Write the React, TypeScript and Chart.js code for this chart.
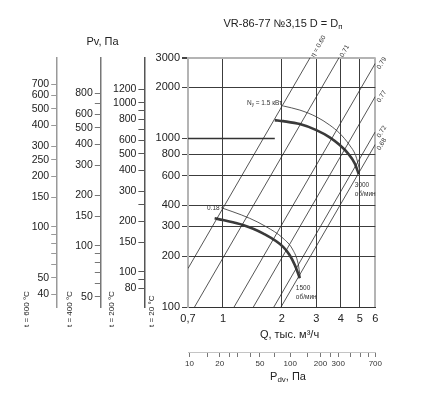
import React, { useEffect, useRef } from "react";
import { Chart, registerables } from "chart.js";

Chart.register(...registerables);

const FONT = "'Liberation Sans', Arial, Helvetica, sans-serif";

// ---- main axes (Q, thousand m3/h ; P, Pa at 20 °C) ----
const Q_MIN = 0.663;
const Q_MAX = 6;
const P_MIN = 100;
const P_MAX = 3000;
const Q_TICKS = [0.663, 1, 2, 3, 4, 5, 6];
const Q_TICK_LABELS = ["0,7", "1", "2", "3", "4", "5", "6"];
const P_TICKS = [100, 200, 300, 400, 600, 800, 1000, 2000, 3000];
const P_PARTIAL_GRID = 1000;

// ---- dynamic pressure scale ----
const PDV_MIN = 9.663;
const PDV_MAX = 700;
const PDV_TICKS = [10, 15, 20, 25, 30, 40, 50, 70, 100, 150, 200, 250, 300, 400, 500, 600, 700];
const PDV_LABELS = [10, 20, 50, 100, 200, 300, 700];

// ---- temperature pressure scales ----
const T_REF = 20;
const T200 = 200;
const T400 = 400;
const T600 = 600;
const T200_TICKS = [80, 90, 100, 150, 200, 250, 300, 400, 500, 600, 700, 800, 900, 1000, 1200];
const T200_LABELS = [80, 100, 150, 200, 300, 400, 500, 600, 800, 1000, 1200];
const T400_TICKS = [50, 60, 70, 80, 90, 100, 150, 200, 300, 400, 500, 600, 700, 800];
const T400_LABELS = [50, 100, 150, 200, 300, 400, 500, 600, 800];
const T600_TICKS = [40, 50, 60, 70, 80, 90, 100, 150, 200, 250, 300, 400, 500, 600, 700];
const T600_LABELS = [40, 50, 100, 150, 200, 250, 300, 400, 500, 600, 700];

// ---- efficiency lines ----
const ETA_LABELS = ["η = 0.60", "0.71", "0.79", "0.77", "0.72", "0.68"];
const ETA_Q_START = [0.663, 0.716, 1.14, 1.43, 1.82, 1.98];
const ETA_P_START = [169, 100, 100, 100, 100, 100];
const ETA_Q_END = [2.79, 3.92, 6, 6, 6, 6];
const ETA_P_END = [3000, 3000, 2772, 1764, 1090, 918];

// ---- fan curves ----
const Q_3000_THICK = [1.84, 2.03, 2.47, 3.0, 3.51, 3.95, 4.35, 4.71, 4.94];
const P_3000_THICK = [1278, 1260, 1210, 1115, 1010, 909, 812, 709, 612];
const Q_3000_THIN = [2.03, 2.47, 3.0, 3.51, 3.95, 4.43, 4.76, 4.99];
const P_3000_THIN = [1550, 1465, 1337, 1194, 1066, 909, 790, 650];
const Q_1500_THICK = [0.907, 1.0, 1.265, 1.6, 2.03, 2.19, 2.33, 2.47];
const P_1500_THICK = [335, 327, 306, 273, 227, 203, 177, 148];
const Q_1500_THIN = [0.98, 1.125, 1.37, 1.66, 2.03, 2.28, 2.42, 2.48];
const P_1500_THIN = [387, 366, 335, 299, 255, 217, 181, 151];

const LABEL_N_3000 = "1.5 кВт";
const LABEL_N_1500 = "0.18";
const LABEL_RPM_3000 = "3000";
const LABEL_RPM_1500 = "1500";
const LABEL_RPM_UNIT = "об/мин";

const AXIS_W = 43.6;
const CHART_TOP = 57.5;
const CHART_BOTTOM = 307;
const CHART_RIGHT = 375.3;
const X_AXIS_H = 45;
const PDV_AXIS_H = 33;

const factor = (t: number) => (273 + T_REF) / (273 + t);

type Part = { t: string; sub?: boolean };
function drawRich(ctx: CanvasRenderingContext2D, parts: Part[], x: number, y: number, size: number, align: string) {
  const widths = parts.map((p) => {
    ctx.font = `${p.sub ? size * 0.72 : size}px ${FONT}`;
    return ctx.measureText(p.t).width;
  });
  const total = widths.reduce((a, b) => a + b, 0);
  let cx = align === "center" ? x - total / 2 : align === "right" ? x - total : x;
  ctx.textAlign = "left";
  ctx.textBaseline = "middle";
  parts.forEach((p, i) => {
    ctx.font = `${p.sub ? size * 0.72 : size}px ${FONT}`;
    ctx.fillText(p.t, cx, p.sub ? y + size * 0.28 : y);
    cx += widths[i];
  });
}

const textPlugin = {
  id: "nomogramTexts",
  beforeDatasetsDraw(chart: any) {
    const { ctx } = chart;
    const xs = chart.scales.x;
    const ys = chart.scales.y;
    const y = Math.round(ys.getPixelForValue(P_PARTIAL_GRID)) + 0.5;
    ctx.save();
    ctx.strokeStyle = "#333";
    ctx.lineWidth = 1.4;
    ctx.beginPath();
    ctx.moveTo(xs.getPixelForValue(Q_MIN), y);
    ctx.lineTo(xs.getPixelForValue(Q_3000_THICK[0]), y);
    ctx.stroke();
    ctx.restore();
  },
  afterDraw(chart: any) {
    const { ctx } = chart;
    const xs = chart.scales.x;
    const ys = chart.scales.y;
    const px = (q: number, p: number) => ({ x: xs.getPixelForValue(q), y: ys.getPixelForValue(p) });
    ctx.save();
    ctx.fillStyle = "#222";

    // titles
    drawRich(ctx, [{ t: "VR-86-77 №3,15 D = D" }, { t: "п", sub: true }], 283, 23.5, 11, "center");
    drawRich(ctx, [{ t: "Pv, Па" }], 102.5, 42, 11, "center");
    drawRich(ctx, [{ t: "Q, тыс. м³/ч" }], 289.5, 335, 11, "center");
    drawRich(ctx, [{ t: "P" }, { t: "dv", sub: true }, { t: ", Па" }], 288, 376.5, 11, "center");

    // temperature labels
    const tAxes: [string, string, number][] = [
      ["y", "t = 20 °C", 36],
      ["y200", "t = 200 °C", 32.5],
      ["y400", "t = 400 °C", 31.5],
      ["y600", "t = 600 °C", 30.5],
    ];
    tAxes.forEach(([id, txt, off]) => {
      const s = chart.scales[id];
      ctx.save();
      ctx.translate(s.right - off, 327);
      ctx.rotate(-Math.PI / 2);
      ctx.font = `8px ${FONT}`;
      ctx.textAlign = "left";
      ctx.textBaseline = "middle";
      ctx.fillText(txt, 0, 0);
      ctx.restore();
    });

    // efficiency labels
    ctx.fillStyle = "#333";
    ETA_LABELS.forEach((lab, i) => {
      const a = px(ETA_Q_START[i], ETA_P_START[i]);
      const b = px(ETA_Q_END[i], ETA_P_END[i]);
      const ang = Math.atan2(b.y - a.y, b.x - a.x);
      const top = ETA_P_END[i] >= P_MAX;
      ctx.save();
      ctx.translate(b.x, b.y);
      ctx.rotate(ang);
      ctx.font = `6.5px ${FONT}`;
      ctx.textAlign = "left";
      ctx.textBaseline = "middle";
      ctx.fillText(lab, top ? 2 : -3, top ? 1.5 : 5.5);
      ctx.restore();
    });

    // power labels
    const s3 = px(Q_3000_THIN[0], P_3000_THIN[0]);
    drawRich(ctx, [{ t: "N" }, { t: "у", sub: true }, { t: " = " + LABEL_N_3000 }], s3.x - 1, s3.y - 3, 6.5, "right");
    const s1 = px(Q_1500_THIN[0], P_1500_THIN[0]);
    drawRich(ctx, [{ t: LABEL_N_1500 }], s1.x - 1.5, s1.y + 0.5, 6.5, "right");

    // rpm labels
    const e3 = px(Q_3000_THICK[Q_3000_THICK.length - 1], P_3000_THICK[P_3000_THICK.length - 1]);
    drawRich(ctx, [{ t: LABEL_RPM_3000 }], e3.x - 4, e3.y + 11.5, 6.5, "left");
    drawRich(ctx, [{ t: LABEL_RPM_UNIT }], e3.x - 4, e3.y + 20.5, 6.5, "left");
    const e1 = px(Q_1500_THICK[Q_1500_THICK.length - 1], P_1500_THICK[P_1500_THICK.length - 1]);
    drawRich(ctx, [{ t: LABEL_RPM_1500 }], e1.x - 4, e1.y + 10, 6.5, "left");
    drawRich(ctx, [{ t: LABEL_RPM_UNIT }], e1.x - 4, e1.y + 19, 6.5, "left");

    ctx.restore();
  },
};

function tempAxis(t: number, weight: number, ticks: number[], labels: number[], color: string) {
  const f = factor(t);
  return {
    type: "logarithmic",
    position: "left",
    weight,
    min: P_MIN * f,
    max: P_MAX * f,
    afterFit: (s: any) => {
      s.width = AXIS_W;
    },
    afterBuildTicks: (s: any) => {
      s.ticks = ticks.map((v) => ({ value: v }));
    },
    ticks: {
      autoSkip: false,
      padding: 2,
      color: "#222",
      font: { size: 10.5 },
      callback: (v: number) => (labels.includes(v) ? String(v) : ""),
    },
    grid: { drawOnChartArea: false, drawTicks: true, tickLength: 6, tickColor: color, color },
    border: { display: true, color, width: 1.5 },
  };
}

export default function App() {
  const ref = useRef<HTMLCanvasElement>(null);

  useEffect(() => {
    Chart.defaults.font.family = FONT;
    Chart.defaults.font.size = 11;
    Chart.defaults.color = "#222";

    const pts = (qs: number[], ps: number[]) => qs.map((q, i) => ({ x: q, y: ps[i] }));
    const datasets: any[] = [];
    ETA_LABELS.forEach((_, i) => {
      datasets.push({
        data: [
          { x: ETA_Q_START[i], y: ETA_P_START[i] },
          { x: ETA_Q_END[i], y: ETA_P_END[i] },
        ],
        borderColor: "#2b2b2b",
        borderWidth: 0.8,
        showLine: true,
        pointRadius: 0,
      });
    });
    const curve = (qs: number[], ps: number[], w: number) => ({
      data: pts(qs, ps),
      borderColor: w > 1.5 ? "#3a3a3a" : "#444",
      borderWidth: w,
      showLine: true,
      pointRadius: 0,
      cubicInterpolationMode: "monotone",
    });
    datasets.push(curve(Q_3000_THIN, P_3000_THIN, 0.9));
    datasets.push(curve(Q_3000_THICK, P_3000_THICK, 2.6));
    datasets.push(curve(Q_1500_THIN, P_1500_THIN, 0.9));
    datasets.push(curve(Q_1500_THICK, P_1500_THICK, 2.6));

    const lastQ = Q_TICKS.length - 1;
    const chart = new Chart(ref.current as HTMLCanvasElement, {
      type: "scatter",
      data: { datasets },
      options: {
        animation: false,
        responsive: true,
        maintainAspectRatio: false,
        events: [],
        layout: {
          padding: {
            left: 188 - 4 * AXIS_W,
            top: CHART_TOP,
            right: 423 - CHART_RIGHT,
            bottom: 399 - CHART_BOTTOM - X_AXIS_H - PDV_AXIS_H,
          },
        },
        plugins: { legend: { display: false }, tooltip: { enabled: false }, title: { display: false } },
        scales: {
          x: {
            type: "logarithmic",
            position: "bottom",
            weight: 0,
            min: Q_MIN,
            max: Q_MAX,
            afterFit: (s: any) => {
              s.height = X_AXIS_H;
            },
            afterBuildTicks: (s: any) => {
              s.ticks = Q_TICKS.map((v) => ({ value: v }));
            },
            ticks: {
              autoSkip: false,
              maxRotation: 0,
              padding: 5,
              color: "#222",
              font: { size: 11 },
              callback: (_v: number, i: number) => Q_TICK_LABELS[i],
            },
            grid: {
              drawTicks: false,
              color: (c: any) => (c.index === 0 ? "rgba(0,0,0,0)" : c.index === lastQ ? "#b4b4b4" : "#3c3c3c"),
              lineWidth: (c: any) => (c.index === lastQ ? 2 : 1),
            },
            border: { display: true, color: "#333", width: 1 },
          },
          xp: {
            type: "logarithmic",
            position: "bottom",
            weight: 1,
            min: PDV_MIN,
            max: PDV_MAX,
            afterFit: (s: any) => {
              s.height = PDV_AXIS_H;
            },
            afterBuildTicks: (s: any) => {
              s.ticks = PDV_TICKS.map((v) => ({ value: v }));
            },
            ticks: {
              autoSkip: false,
              maxRotation: 0,
              padding: 1.5,
              color: "#333",
              font: { size: 8 },
              callback: (v: number) => (PDV_LABELS.includes(v) ? String(v) : ""),
            },
            grid: { drawOnChartArea: false, drawTicks: true, tickLength: 5, tickColor: "#777", color: "#777" },
            border: { display: true, color: "#c4c4c4", width: 1 },
          },
          y: {
            type: "logarithmic",
            position: "left",
            weight: 0,
            min: P_MIN,
            max: P_MAX,
            afterFit: (s: any) => {
              s.width = AXIS_W;
            },
            afterBuildTicks: (s: any) => {
              s.ticks = P_TICKS.map((v) => ({ value: v }));
            },
            ticks: { autoSkip: false, padding: 2, color: "#222", font: { size: 11 }, callback: (v: number) => String(v) },
            grid: {
              drawTicks: true,
              tickLength: 6,
              tickColor: "#444",
              color: (c: any) => {
                const v = c.tick ? c.tick.value : 0;
                if (v === P_MIN || v === P_PARTIAL_GRID) return "rgba(0,0,0,0)";
                if (v === P_MAX) return "#b4b4b4";
                return "#3c3c3c";
              },
              lineWidth: (c: any) => (c.tick && c.tick.value === P_MAX ? 2 : 1),
            },
            border: { display: true, color: "#b4b4b4", width: 2 },
          },
          y200: tempAxis(T200, 1, T200_TICKS, T200_LABELS, "#555"),
          y400: tempAxis(T400, 2, T400_TICKS, T400_LABELS, "#777"),
          y600: tempAxis(T600, 3, T600_TICKS, T600_LABELS, "#999"),
        },
      } as any,
      plugins: [textPlugin],
    });
    return () => chart.destroy();
  }, []);

  return (
    <div style={{ position: "absolute", left: 0, top: 0, width: 423, height: 399 }}>
      <canvas ref={ref} />
    </div>
  );
}
